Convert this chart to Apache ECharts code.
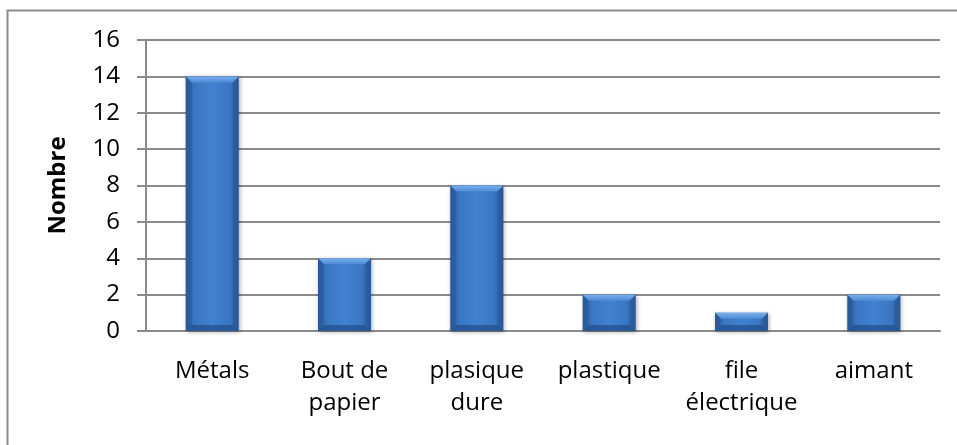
<!DOCTYPE html>
<html>
<head>
<meta charset="utf-8">
<script src="https://cdn.jsdelivr.net/npm/echarts@6/dist/echarts.min.js"></script>
<style>
  html, body { margin: 0; padding: 0; background: #fff; }
  #chart { width: 957px; height: 445px; }
</style>
</head>
<body>
<div id="chart"></div>
<script>
// Objects counted per material
const categories = ['Métals', 'Bout de\npapier', 'plasique\ndure', 'plastique', 'file\nélectrique', 'aimant'];
const counts = [14, 4, 8, 2, 1, 2];
const yTicks = { min: 0, max: 16, interval: 2 };
const yTitle = 'Nombre';

const FONT = '"Open Sans", "Noto Sans", sans-serif';
const GRID_COLOR = '#8a8a8a';

// Bevelled bar: body with side shading, lighter top edge, darker bottom edge
function renderBevelBar(params, api) {
  const idx = api.value(0);
  const val = api.value(1);
  const base = api.coord([idx, 0]);
  const top = api.coord([idx, val]);
  const w = api.size([1, 0])[0] * 0.4;
  const x0 = base[0] - w / 2, x1 = base[0] + w / 2;
  const yT = top[1], yB = base[1];
  const h = yB - yT;
  const b = Math.min(6, h / 2 - 0.5);

  const body = new echarts.graphic.LinearGradient(0, 0, 1, 0, [
    { offset: 0, color: '#2c5f9f' },
    { offset: 0.18, color: '#3a76c2' },
    { offset: 0.5, color: '#4282d0' },
    { offset: 0.82, color: '#3a76c2' },
    { offset: 1, color: '#2c5f9f' }
  ]);
  return {
    type: 'group',
    children: [
      {
        type: 'rect',
        shape: { x: x0, y: yT, width: w, height: h },
        style: { fill: body, shadowBlur: 4, shadowColor: 'rgba(0,0,0,0.35)', shadowOffsetX: 1, shadowOffsetY: 1 }
      },
      {
        type: 'polygon',
        shape: { points: [[x0, yT], [x1, yT], [x1 - b, yT + b], [x0 + b, yT + b]] },
        style: {
          fill: new echarts.graphic.LinearGradient(0, 0, 0, 1, [
            { offset: 0, color: '#7ab0ec' },
            { offset: 1, color: '#4d8bd6' }
          ])
        }
      },
      {
        type: 'polygon',
        shape: { points: [[x0, yT], [x0 + b, yT + b], [x0 + b, yB - b], [x0, yB]] },
        style: { fill: 'rgba(30,70,130,0.3)' }
      },
      {
        type: 'polygon',
        shape: { points: [[x1, yT], [x1 - b, yT + b], [x1 - b, yB - b], [x1, yB]] },
        style: { fill: 'rgba(30,70,130,0.3)' }
      },
      {
        type: 'polygon',
        shape: { points: [[x0, yB], [x1, yB], [x1 - b, yB - b], [x0 + b, yB - b]] },
        style: { fill: 'rgba(35,80,140,0.75)' }
      }
    ]
  };
}

const chart = echarts.init(document.getElementById('chart'), null, { renderer: 'canvas' });
chart.setOption({
  animation: false,
  backgroundColor: '#ffffff',
  graphic: [{
    type: 'rect',
    shape: { x: 7.5, y: 10.5, width: 1000, height: 1000 },
    style: { fill: 'none', stroke: '#8c8c8c', lineWidth: 2 },
    z: -1
  }],
  grid: { left: 146, top: 40, right: 17, bottom: 114 },
  xAxis: {
    type: 'category',
    data: categories,
    axisLine: { lineStyle: { color: GRID_COLOR, width: 2 } },
    axisTick: { show: false },
    axisLabel: {
      interval: 0,
      margin: 24,
      fontFamily: FONT,
      fontSize: 24,
      lineHeight: 32,
      color: '#000'
    }
  },
  yAxis: {
    type: 'value',
    min: yTicks.min,
    max: yTicks.max,
    interval: yTicks.interval,
    name: yTitle,
    nameLocation: 'middle',
    nameRotate: 90,
    nameGap: 76,
    nameTextStyle: { fontFamily: FONT, fontSize: 24, fontWeight: 'bold', color: '#000' },
    axisLine: { show: true, lineStyle: { color: GRID_COLOR, width: 2 } },
    axisTick: { show: true, length: 9, lineStyle: { color: GRID_COLOR, width: 2 } },
    axisLabel: { margin: 26, fontFamily: FONT, fontSize: 24, color: '#000' },
    splitLine: { lineStyle: { color: GRID_COLOR, width: 2 } }
  },
  series: [{
    type: 'custom',
    renderItem: renderBevelBar,
    encode: { x: 0, y: 1 },
    data: counts.map((v, i) => [i, v])
  }]
});
</script>
</body>
</html>
